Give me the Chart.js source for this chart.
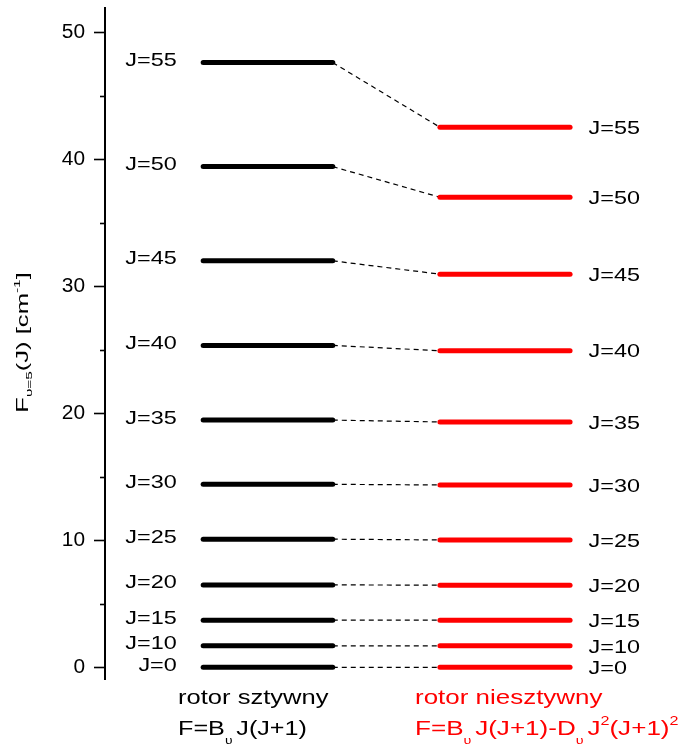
<!DOCTYPE html>
<html>
<head>
<meta charset="utf-8">
<script src="https://cdn.jsdelivr.net/npm/chart.js@4/dist/chart.umd.min.js"></script>
<style>
html,body{margin:0;padding:0;background:#fff;}
#wrap{width:681px;height:753px;position:relative;}
</style>
</head>
<body>
<div id="wrap"><canvas id="c"></canvas></div>
<script>
// ---- data ----
const levelLabels = ["J=0","J=10","J=15","J=20","J=25","J=30","J=35","J=40","J=45","J=50","J=55"];
const rigidValues = [0, 1.69, 3.71, 6.49, 10.09, 14.41, 19.47, 25.35, 32.01, 39.43, 47.62];
const nonRigidValues = [0, 1.69, 3.71, 6.47, 10.03, 14.36, 19.32, 24.93, 30.96, 37.02, 42.53];
const yTickValues = [0, 10, 20, 30, 40, 50];
const yMinorTickValues = [5, 15, 25, 35, 45];

// ---- layout (positions in x-scale units 0..100) ----
const BLACK_X0 = 17.5, BLACK_X1 = 40.6;
const RED_X0 = 59.7, RED_X1 = 82.9;
const LBL_LEFT = 12.8, LBL_RIGHT = 86.2;
const FONT = '"Liberation Sans", Arial, sans-serif';
const SX = 1.26;

function drawRich(ctx, segs, x, y, size, align, color, sx) {
  ctx.save();
  ctx.fillStyle = color;
  ctx.textBaseline = 'alphabetic';
  let total = 0;
  const ms = segs.map(s => {
    ctx.font = (size * (s[1] || 1)) + 'px ' + FONT;
    const w = ctx.measureText(s[0]).width;
    total += w + (s[3] || 0);
    return w;
  });
  ctx.translate(x, y);
  ctx.scale(sx, 1);
  let cx = align === 'right' ? -total : (align === 'center' ? -total / 2 : 0);
  segs.forEach((s, i) => {
    ctx.font = (size * (s[1] || 1)) + 'px ' + FONT;
    ctx.fillText(s[0], cx, (s[2] || 0) * size);
    cx += ms[i] + (s[3] || 0);
  });
  ctx.restore();
}

const diagramPlugin = {
  id: 'diagram',
  afterDraw(chart) {
    const ctx = chart.ctx;
    const ys = chart.scales.y, xs = chart.scales.x;
    const ca = chart.chartArea;
    ctx.save();
    ctx.strokeStyle = '#000';
    ctx.lineWidth = 2;
    ctx.beginPath();
    ctx.moveTo(ca.left, ca.top);
    ctx.lineTo(ca.left, ca.bottom);
    ctx.stroke();
    ctx.lineWidth = 1.6;
    yTickValues.forEach(v => {
      const p = Math.round(ys.getPixelForValue(v)) + 0.5;
      ctx.beginPath(); ctx.moveTo(ca.left - 11, p); ctx.lineTo(ca.left, p); ctx.stroke();
    });
    yMinorTickValues.forEach(v => {
      const p = Math.round(ys.getPixelForValue(v)) + 0.5;
      ctx.beginPath(); ctx.moveTo(ca.left - 5, p); ctx.lineTo(ca.left, p); ctx.stroke();
    });
    ctx.restore();
    // tick labels
    yTickValues.forEach(v => {
      drawRich(ctx, [[String(v)]], ca.left - 20, ys.getPixelForValue(v) + 5.5, 19.5, 'right', '#000', 1.07);
    });
    // J labels
    levelLabels.forEach((t, i) => {
      drawRich(ctx, [[t]], xs.getPixelForValue(LBL_LEFT), ys.getPixelForValue(rigidValues[i]) + 3.6, 18.6, 'right', '#000', SX);
      drawRich(ctx, [[t]], xs.getPixelForValue(LBL_RIGHT), ys.getPixelForValue(nonRigidValues[i]) + 6.7, 18.6, 'left', '#000', SX);
    });
    // bottom captions
    drawRich(ctx, [["rotor sztywny"]], 178, 704, 20.3, 'left', '#000', SX);
    drawRich(ctx, [["F=B"], ["\u03c5", 0.55, 0.45, 3], ["J(J+1)"]], 178, 735, 20, 'left', '#000', SX);
    drawRich(ctx, [["rotor niesztywny"]], 415, 704, 20.6, 'left', '#ff0000', SX);
    drawRich(ctx, [["F=B"], ["\u03c5", 0.55, 0.45, 3], ["J(J+1)-D"], ["\u03c5", 0.55, 0.45, 3], ["J"], ["2", 0.62, -0.5], ["(J+1)"], ["2", 0.62, -0.5]], 415, 735, 20.7, 'left', '#ff0000', SX);
    // y title rotated
    ctx.save();
    ctx.translate(27.5, 342.5);
    ctx.rotate(-Math.PI / 2);
    drawRich(ctx, [["F"], ["\u03c5=5", 0.6, 0.3], ["(J) [cm"], ["-1", 0.6, -0.45], ["]"]], 0, 0, 16, 'center', '#000', 1.6);
    ctx.restore();
  }
};

const datasets = [];
rigidValues.forEach((v) => {
  datasets.push({
    data: [{x: BLACK_X0, y: v}, {x: BLACK_X1, y: v}],
    borderColor: '#000', borderWidth: 5, borderCapStyle: 'round', pointRadius: 0
  });
});
nonRigidValues.forEach((v) => {
  datasets.push({
    data: [{x: RED_X0, y: v}, {x: RED_X1, y: v}],
    borderColor: '#ff0000', borderWidth: 5, borderCapStyle: 'round', pointRadius: 0
  });
});
rigidValues.forEach((v, i) => {
  datasets.push({
    data: [{x: BLACK_X1, y: v}, {x: RED_X0, y: nonRigidValues[i]}],
    borderColor: '#000', borderWidth: 1.2, borderDash: [5, 4], pointRadius: 0
  });
});

new Chart(document.getElementById('c'), {
  type: 'line',
  data: { datasets },
  options: {
    responsive: true,
    maintainAspectRatio: false,
    animation: false,
    parsing: false,
    layout: { padding: { left: 105, right: 15, top: 7, bottom: 73 } },
    plugins: { legend: { display: false }, tooltip: { enabled: false } },
    scales: {
      x: { type: 'linear', display: false, min: 0, max: 100 },
      y: { type: 'linear', display: false, min: -1, max: 52 }
    }
  },
  plugins: [diagramPlugin]
});
</script>
</body>
</html>
